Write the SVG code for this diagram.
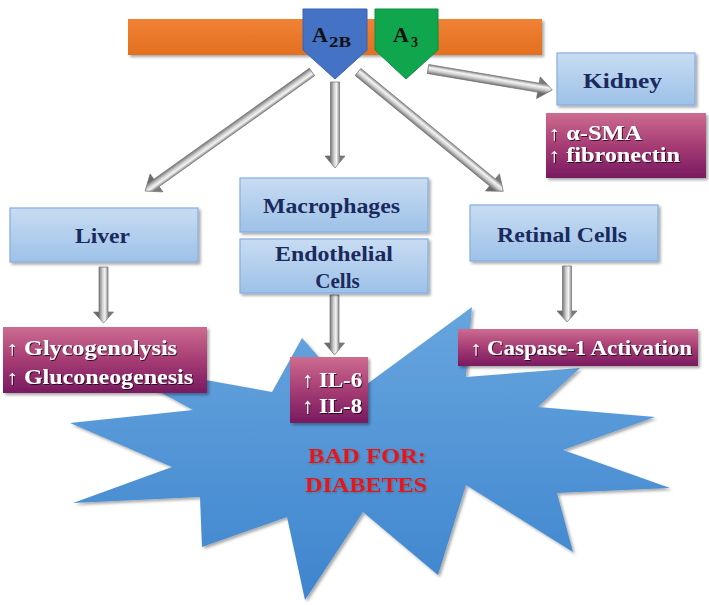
<svg xmlns="http://www.w3.org/2000/svg" width="709" height="605" viewBox="0 0 709 605">
<defs>
<linearGradient id="gBlue" x1="0" y1="0" x2="0" y2="1"><stop offset="0" stop-color="#C8DCF2"/><stop offset="1" stop-color="#9DC1E8"/></linearGradient>
<linearGradient id="gRed" x1="0" y1="0" x2="0" y2="1"><stop offset="0" stop-color="#CD6C90"/><stop offset="0.5" stop-color="#A63C74"/><stop offset="1" stop-color="#781A60"/></linearGradient>
<linearGradient id="gStar" x1="0" y1="0" x2="0" y2="1"><stop offset="0" stop-color="#67A5DE"/><stop offset="1" stop-color="#3E85CE"/></linearGradient>
<linearGradient id="gOrange" x1="0" y1="0" x2="0" y2="1"><stop offset="0" stop-color="#F08236"/><stop offset="1" stop-color="#E2701F"/></linearGradient>
<linearGradient id="gArrow" gradientUnits="userSpaceOnUse" x1="0" y1="-5" x2="0" y2="5"><stop offset="0" stop-color="#7A7A7A"/><stop offset="0.35" stop-color="#F4F4F4"/><stop offset="0.6" stop-color="#CFCFCF"/><stop offset="1" stop-color="#6A6A6A"/></linearGradient>
<filter id="sh" x="-10%" y="-10%" width="130%" height="140%"><feDropShadow dx="2" dy="2" stdDeviation="1.5" flood-color="#000" flood-opacity="0.35"/></filter>
<filter id="ts" x="-5%" y="-20%" width="115%" height="150%"><feDropShadow dx="1" dy="1" stdDeviation="0.6" flood-color="#000" flood-opacity="0.7"/></filter>
<filter id="rs" x="-5%" y="-20%" width="115%" height="150%"><feDropShadow dx="1" dy="1" stdDeviation="0.8" flood-color="#555" flood-opacity="0.6"/></filter>
</defs>
<style>
.bb{fill:url(#gBlue);stroke:#86AEE0;stroke-width:1.2;filter:url(#sh)}
.rb{fill:url(#gRed);filter:url(#sh)}
text{font-family:'Liberation Serif','Times New Roman',Times,serif;font-weight:700}
.bt{font-size:21px;fill:#1B2A5C}
.wt{font-size:20px;fill:#FFFFFF;filter:url(#ts)}
.rt{font-size:22px;fill:#E2141B;filter:url(#rs)}
.lt{fill:#111}
.ar{fill:url(#gArrow);stroke:#707070;stroke-width:0.7}
</style>

<g id="membrane">
<rect x="128" y="19" width="414" height="36" fill="url(#gOrange)" filter="url(#sh)"/>
</g>

<g id="star">
<polygon points="472,307 466,377 580,368 538,407 655,417 563,450 670,488 557,493 573,552 466,485 438,575 363,512 305,600 287,517 202,547 200,497 73,503 172,467 70,423 193,410 105,362 272,392 302,338 352,395" fill="url(#gStar)" filter="url(#sh)"/>
<text class="rt" x="308" y="463" textLength="118" lengthAdjust="spacingAndGlyphs">BAD FOR:</text>
<text class="rt" x="305" y="492" textLength="122" lengthAdjust="spacingAndGlyphs">DIABETES</text>
</g>

<g id="connectors">
<g transform="translate(312,72) rotate(144.5)"><polygon class="ar" points="0,-4.5 191,-4.5 191,-11 205,0 191,11 191,4.5 0,4.5"/></g>
<g transform="translate(335,82) rotate(90)"><polygon class="ar" points="0,-4.5 74,-4.5 74,-10 86,0 74,10 74,4.5 0,4.5"/></g>
<g transform="translate(358,72) rotate(39.4)"><polygon class="ar" points="0,-4.5 174,-4.5 174,-11 188,0 174,11 174,4.5 0,4.5"/></g>
<g transform="translate(428,69) rotate(9.6)"><polygon class="ar" points="0,-4.5 112,-4.5 112,-11 126,0 112,11 112,4.5 0,4.5"/></g>
<g transform="translate(103.5,267) rotate(90)"><polygon class="ar" points="0,-4.5 45,-4.5 45,-10 56,0 45,10 45,4.5 0,4.5"/></g>
<g transform="translate(334.5,295) rotate(90)"><polygon class="ar" points="0,-4.5 48,-4.5 48,-10 60,0 48,10 48,4.5 0,4.5"/></g>
<g transform="translate(567,266) rotate(90)"><polygon class="ar" points="0,-4.5 45,-4.5 45,-10 56,0 45,10 45,4.5 0,4.5"/></g>
</g>

<g id="A2B">
<polygon points="303,9 367,9 367,50 335,79 303,50" fill="#4472C4" stroke="#3A62AC" stroke-width="1"/>
<text class="lt" x="312" y="42" font-size="22">A</text>
<text class="lt" x="329" y="47" font-size="14" textLength="22" lengthAdjust="spacingAndGlyphs">2B</text>
</g>
<g id="A3">
<polygon points="375,9 438,9 438,50 406,79 375,50" fill="#10A64E" stroke="#0D8F43" stroke-width="1"/>
<text class="lt" x="393" y="42" font-size="22">A</text>
<text class="lt" x="411" y="47" font-size="14">3</text>
</g>

<g id="kidney">
<rect class="bb" x="557" y="53" width="138" height="52"/>
<text class="bt" x="583" y="88" textLength="79" lengthAdjust="spacingAndGlyphs">Kidney</text>
</g>
<g id="kidney-effects">
<rect class="rb" x="546" y="113" width="160" height="65"/>
<text class="wt" x="548" y="140" textLength="94" lengthAdjust="spacingAndGlyphs">↑ α-SMA</text>
<text class="wt" x="548" y="162" textLength="132" lengthAdjust="spacingAndGlyphs">↑ fibronectin</text>
</g>

<g id="liver">
<rect class="bb" x="10" y="208" width="188" height="54"/>
<text class="bt" x="75" y="243" textLength="55" lengthAdjust="spacingAndGlyphs">Liver</text>
</g>
<g id="liver-effects">
<rect class="rb" x="3" y="327" width="204" height="66"/>
<text class="wt" x="6" y="355" textLength="171" lengthAdjust="spacingAndGlyphs">↑ Glycogenolysis</text>
<text class="wt" x="6" y="384" textLength="187" lengthAdjust="spacingAndGlyphs">↑ Gluconeogenesis</text>
</g>

<g id="macrophages">
<rect class="bb" x="240" y="178" width="188" height="54"/>
<text class="bt" x="263" y="213" textLength="137" lengthAdjust="spacingAndGlyphs">Macrophages</text>
</g>
<g id="endothelial">
<rect class="bb" x="240" y="239" width="188" height="54"/>
<text class="bt" x="275" y="261" textLength="118" lengthAdjust="spacingAndGlyphs">Endothelial</text>
<text class="bt" x="337.5" y="288" text-anchor="middle">Cells</text>
</g>
<g id="il-effects">
<rect class="rb" x="290" y="357" width="78" height="66"/>
<text class="wt" x="302" y="387" style="font-size:22px" textLength="60" lengthAdjust="spacingAndGlyphs">↑ IL-6</text>
<text class="wt" x="302" y="413" style="font-size:22px" textLength="60" lengthAdjust="spacingAndGlyphs">↑ IL-8</text>
</g>

<g id="retinal">
<rect class="bb" x="470" y="205" width="188" height="56"/>
<text class="bt" x="497" y="242" textLength="130" lengthAdjust="spacingAndGlyphs">Retinal Cells</text>
</g>
<g id="retinal-effects">
<rect class="rb" x="458" y="329" width="240" height="37"/>
<text class="wt" x="470" y="355" textLength="222" lengthAdjust="spacingAndGlyphs">↑ Caspase-1 Activation</text>
</g>
</svg>
